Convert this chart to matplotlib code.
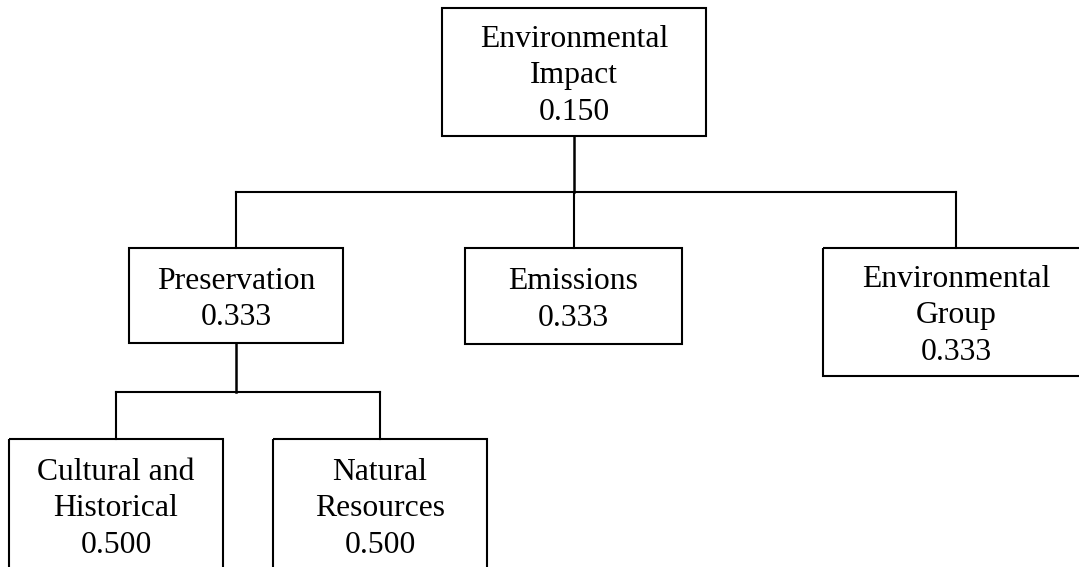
import matplotlib.pyplot as plt
from matplotlib.patches import Rectangle

# ---- data ----
names = ["Environmental\nImpact", "Preservation", "Emissions", "Environmental\nGroup",
         "Cultural and\nHistorical", "Natural\nResources"]
weights = [0.150, 0.333, 0.333, 0.333, 0.500, 0.500]
parents = [None, 0, 0, 0, 1, 1]

# ---- layout (pixels): center x, top y, width, height ----
cx = [574, 236, 573.5, 956, 116, 380]
top = [8, 248, 248, 248, 439, 439]
width = [264, 214, 217, 266, 214, 214]
height = [128, 95, 96, 128, 132, 132]
bus_y = {0: 192, 1: 392}   # y of the horizontal connector under each parent

fig = plt.figure(figsize=(10.79, 5.67), dpi=100)
ax = fig.add_axes([0, 0, 1, 1])
ax.set_xlim(0, 1079)
ax.set_ylim(567, 0)
ax.axis("off")

for i, (name, w) in enumerate(zip(names, weights)):
    ax.add_patch(Rectangle((cx[i] - width[i] / 2, top[i]), width[i], height[i],
                           fill=False, edgecolor="black", linewidth=1.5))
    ax.text(cx[i], top[i] + height[i] / 2 + 4, f"{name}\n{w:.3f}", ha="center", va="center",
            fontsize=22.8, family="Liberation Serif", linespacing=1.35)

# connectors
for p, y in bus_y.items():
    kids = [i for i, q in enumerate(parents) if q == p]
    ax.plot([cx[p], cx[p]], [top[p] + height[p], y], color="black", linewidth=1.8)
    ax.plot([min(cx[k] for k in kids), max(cx[k] for k in kids)], [y, y], color="black", linewidth=1.5)
    for k in kids:
        ax.plot([cx[k], cx[k]], [y, top[k]], color="black", linewidth=1.5)

fig.savefig("out.png", dpi=100)
